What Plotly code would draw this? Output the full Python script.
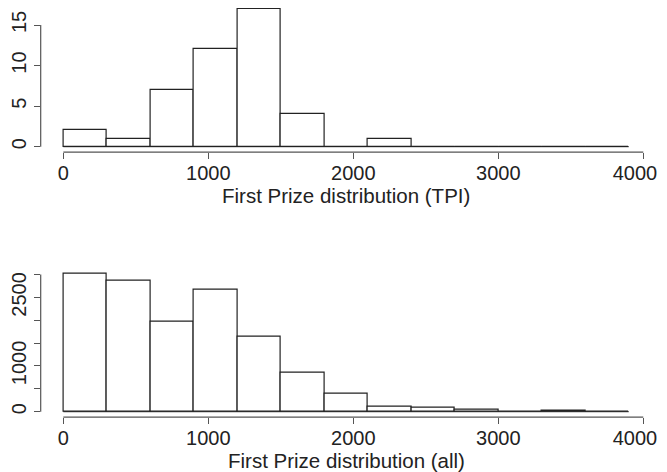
import plotly.graph_objects as go

bin_edges = [0, 300, 600, 900, 1200, 1500, 1800, 2100, 2400, 2700, 3000, 3300, 3600, 3900]
tpi_counts = [2, 1, 7, 12, 17, 4, 0, 1, 0, 0, 0, 0, 0]
all_counts = [3005, 2870, 1960, 2655, 1630, 860, 390, 110, 88, 38, 6, 20, 4]
x_ticks = [0, 1000, 2000, 3000, 4000]
# last label padded so that it stays inside the visible page width
x_tick_text = ["0", "1000", "2000", "3000", "4000\u00a0\u00a0\u00a0"]
top_y_ticks = [0, 5, 10, 15]
bot_y_ticks = [0, 500, 1000, 1500, 2000, 2500, 3000]
bot_y_text = ["0", "", "1000", "", "", "2500", ""]
titles = ["First Prize distribution (TPI)", "First Prize distribution (all)"]

centers = [(a + b) / 2 for a, b in zip(bin_edges[:-1], bin_edges[1:])]
widths = [b - a for a, b in zip(bin_edges[:-1], bin_edges[1:])]

FONT = "Liberation Sans, Arial, sans-serif"
AX = "#555555"
TXT = "#222222"
W, H = 659, 464  # page body has an 8px margin

fig = go.Figure()
for counts, xa, ya in [(tpi_counts, "x", "y"), (all_counts, "x2", "y2")]:
    fig.add_trace(go.Scatter(x=[bin_edges[0], bin_edges[-1]], y=[0, 0], mode="lines",
                             line=dict(color="#222222", width=1), xaxis=xa, yaxis=ya,
                             showlegend=False, hoverinfo="skip"))
    fig.add_trace(go.Bar(x=centers, y=counts, width=widths, xaxis=xa, yaxis=ya,
                         marker=dict(color="white", line=dict(color="#222222", width=1.2)),
                         showlegend=False))

xr = [-156, 4056]
xdom = [32.7 / W, 643.4 / W]
common_x = dict(range=xr, tickvals=x_ticks, ticktext=x_tick_text, ticks="outside", ticklen=6,
                tickcolor=AX, showgrid=False, zeroline=False, showline=False, automargin=False,
                ticklabelstandoff=-3, ticklabeloverflow="allow",
                tickfont=dict(size=20, color=TXT, family=FONT))
common_y = dict(ticks="outside", ticklen=6, tickcolor=AX, showgrid=False, zeroline=False,
                showline=False, tickangle=-90, automargin=False,
                tickfont=dict(size=20, color=TXT, family=FONT))

fig.update_layout(
    width=W, height=H,
    margin=dict(l=0, r=0, t=0, b=0),
    paper_bgcolor="white", plot_bgcolor="white",
    bargap=0,
    xaxis=dict(domain=xdom, anchor="y", **common_x),
    yaxis=dict(domain=[(H - 144.2) / H, 1.0], anchor="x", range=[-0.678, 17.096],
               tickvals=top_y_ticks, **common_y),
    xaxis2=dict(domain=xdom, anchor="y2", **common_x),
    yaxis2=dict(domain=[(H - 409.2) / H, (H - 260.8) / H], anchor="x2", range=[-120, 3125],
                tickvals=bot_y_ticks, ticktext=bot_y_text, **common_y),
)

for title, ypx in zip(titles, [187, 452]):
    fig.add_annotation(text=title, xref="paper", yref="paper", x=(xdom[0] + xdom[1]) / 2,
                       y=(H - ypx) / H, xanchor="center", yanchor="middle",
                       showarrow=False, font=dict(size=20.5, color=TXT, family=FONT))

# R-style axis lines spanning only the tick range
for xref, yref, yt in [("x", "y", top_y_ticks), ("x2", "y2", bot_y_ticks)]:
    fig.add_shape(type="line", xref=xref, yref=yref + " domain", x0=x_ticks[0], x1=x_ticks[-1],
                  y0=0, y1=0, line=dict(color=AX, width=1.2))
    fig.add_shape(type="line", xref=xref + " domain", yref=yref, x0=0, x1=0,
                  y0=yt[0], y1=yt[-1], line=dict(color=AX, width=1.2))

fig.write_html("out.html")
